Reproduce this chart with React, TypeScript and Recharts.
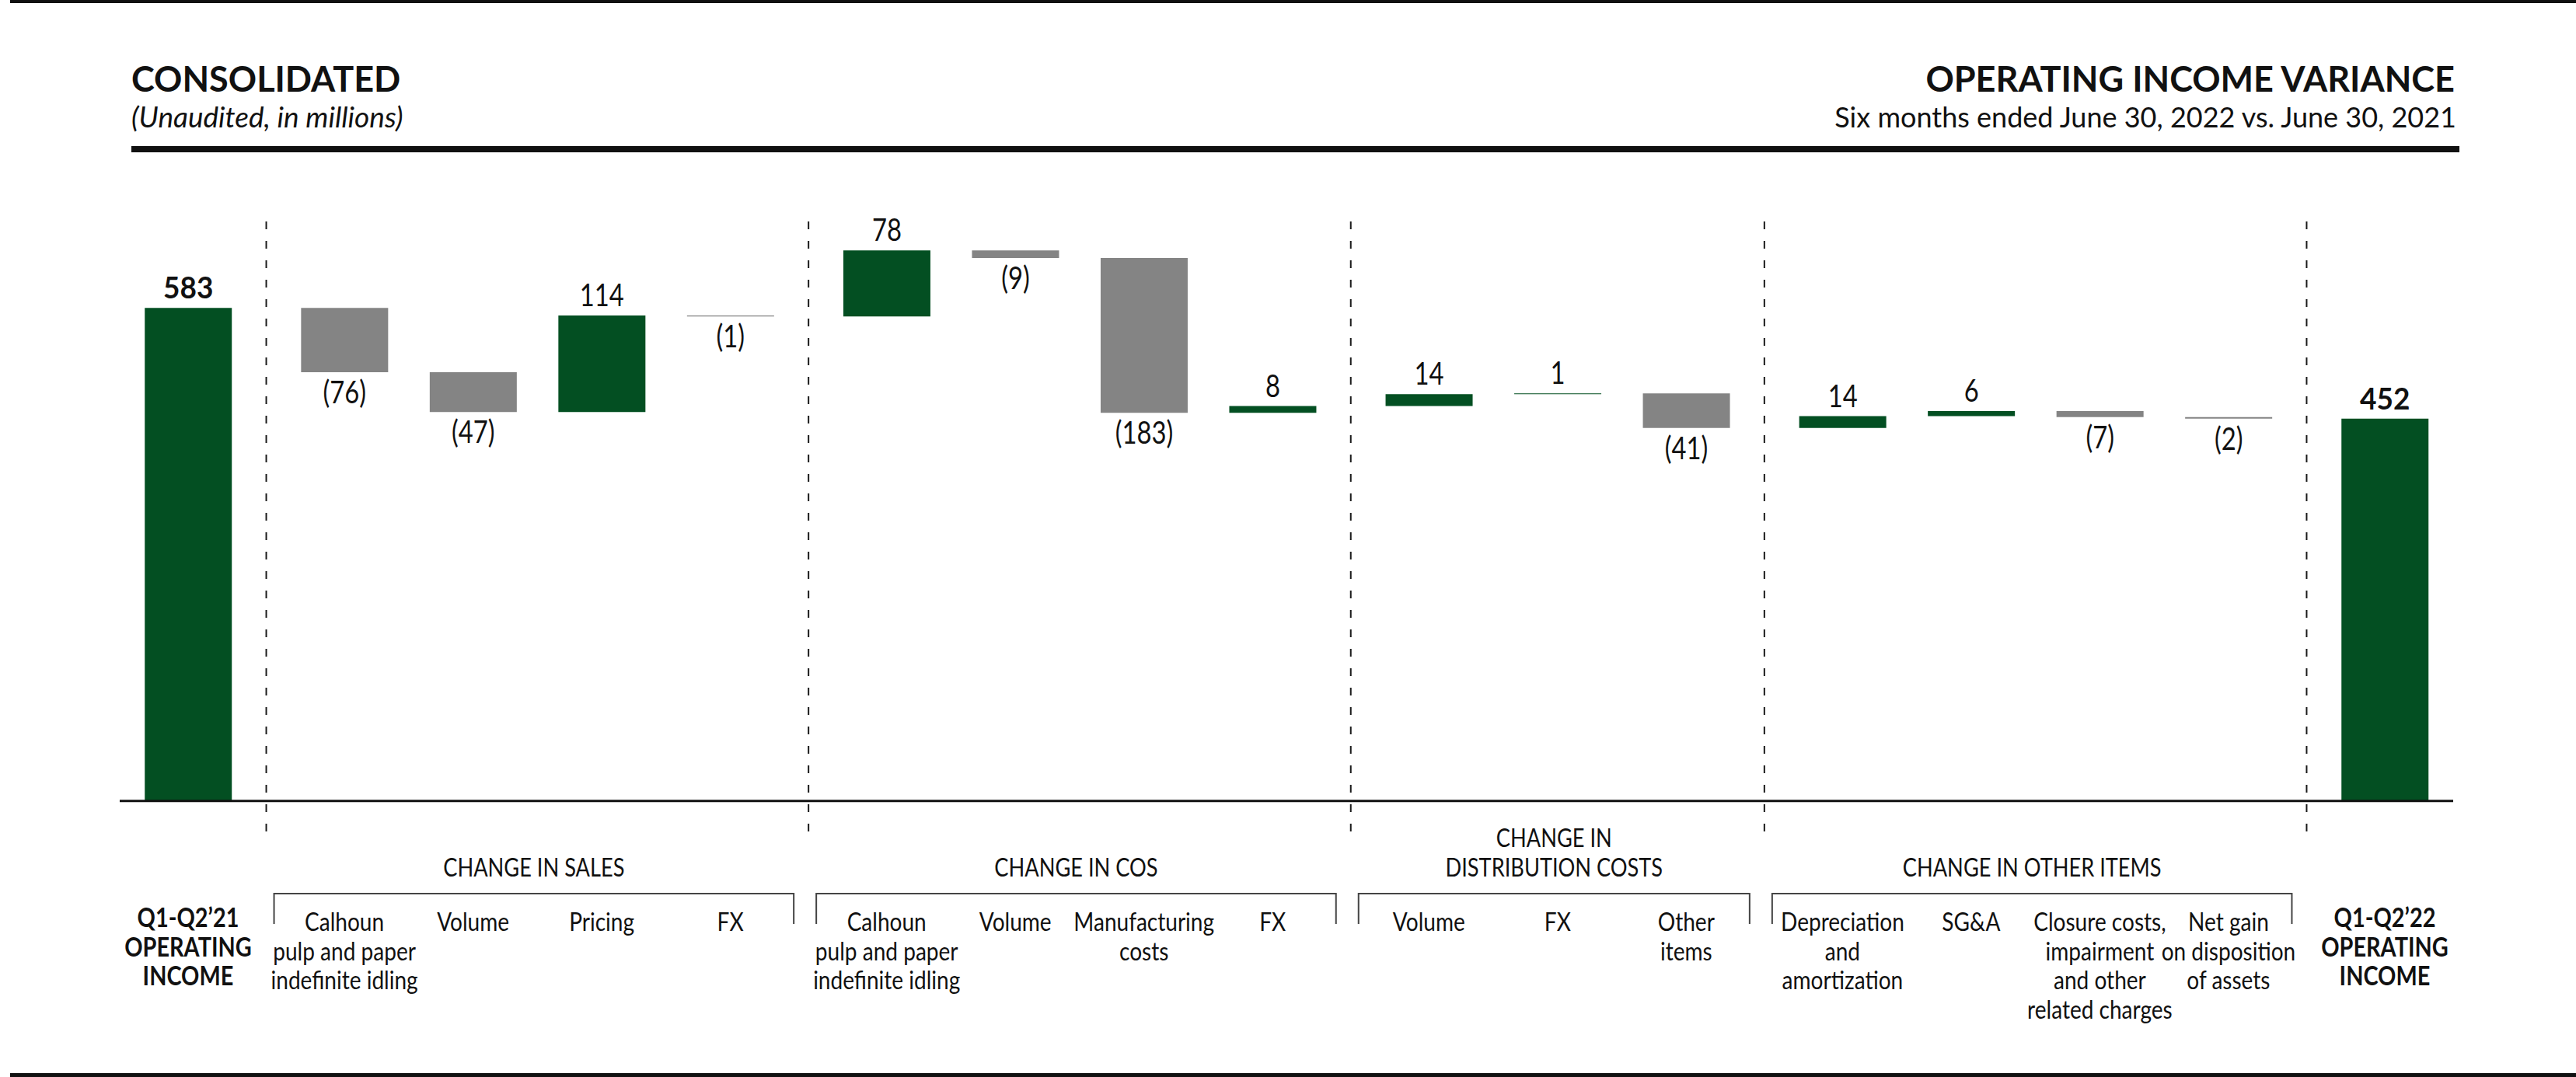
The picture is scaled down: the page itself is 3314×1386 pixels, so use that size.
import { Bar, BarChart, LabelList, ReferenceLine, XAxis, YAxis } from 'recharts'

const W = 3314
const H = 1386
const GREEN = '#034f22'
const GREY = '#848484'
const FONT = 'Lato, "Open Sans", sans-serif'

const categories = [
  'q1q2_21',
  'sales_calhoun',
  'sales_volume',
  'sales_pricing',
  'sales_fx',
  'cos_calhoun',
  'cos_volume',
  'cos_mfg',
  'cos_fx',
  'dist_volume',
  'dist_fx',
  'dist_other',
  'other_da',
  'other_sga',
  'other_closure',
  'other_gain',
  'q1q2_22',
]
const changes = [583, -76, -47, 114, -1, 78, -9, -183, 8, 14, 1, -41, 14, 6, -7, -2, 452]
const isTotal = [true, false, false, false, false, false, false, false, false, false, false, false, false, false, false, false, true]
const tickLabels = [
  ['Q1-Q2’21', 'OPERATING', 'INCOME'],
  ['Calhoun', 'pulp and paper', 'indefinite idling'],
  ['Volume'],
  ['Pricing'],
  ['FX'],
  ['Calhoun', 'pulp and paper', 'indefinite idling'],
  ['Volume'],
  ['Manufacturing', 'costs'],
  ['FX'],
  ['Volume'],
  ['FX'],
  ['Other', 'items'],
  ['Depreciation', 'and', 'amortization'],
  ['SG&A'],
  ['Closure costs,', 'impairment', 'and other', 'related charges'],
  ['Net gain', 'on disposition', 'of assets'],
  ['Q1-Q2’22', 'OPERATING', 'INCOME'],
]
const groupTitles = [['CHANGE IN SALES'], ['CHANGE IN COS'], ['CHANGE IN', 'DISTRIBUTION COSTS'], ['CHANGE IN OTHER ITEMS']]
// first category index of each section (a dashed separator sits before each)
const separators = [1, 5, 9, 12, 16]
const GROUP_GAP = 0.215

// slot on the x axis: category index plus a small extra gap per section
const slots = categories.map((_, i) => i + GROUP_GAP * separators.filter((s) => s <= i).length)
const sepSlots = separators.map((s) => (slots[s - 1] + slots[s]) / 2)

// waterfall rows: invisible base + one visible segment
let run = 0
const rows = categories.map((id, i) => {
  const v = changes[i]
  const slot = slots[i]
  if (isTotal[i]) {
    run = v
    return { id, slot, base: 0, total: v, up: null, down: null }
  }
  const prev = run
  run += v
  return v >= 0
    ? { id, slot, base: prev, total: null, up: v, down: null }
    : { id, slot, base: run, total: null, up: null, down: -v }
})

const M = { top: 270, right: 158, bottom: 116, left: 154 }
const PAD = 88
const X0 = M.left + PAD
const X1 = W - M.right - PAD
const maxSlot = slots[slots.length - 1]
const px = (s: number) => X0 + (s / maxSlot) * (X1 - X0)

function valueLabel(kind: 'total' | 'up' | 'down') {
  return (p: any) => {
    if (p.value == null) return null
    const cx = Number(p.x) + Number(p.width) / 2
    const by = kind === 'down' ? Number(p.y) + Number(p.height) + 40 : Number(p.y) - 12
    const text = kind === 'down' ? `(${p.value})` : String(p.value)
    return (
      <text
        transform={`translate(${cx} ${by}) scale(${kind === 'total' ? 0.95 : 0.82} 1)`}
        textAnchor="middle"
        fontFamily={FONT}
        fontSize={kind === 'total' ? 39 : 40}
        fontWeight={kind === 'total' ? 700 : 400}
        fill="#111"
      >
        {text}
      </text>
    )
  }
}

function CategoryTick(props: any) {
  const i = slots.indexOf(props.payload.value)
  if (i < 0) return null
  const bold = isTotal[i]
  const y0 = bold ? 1193 : 1198
  return (
    <g>
      {tickLabels[i].map((line, k) => (
        <text
          key={k}
          transform={`translate(${props.x} ${y0 + k * 37.5}) scale(0.85 1)`}
          textAnchor="middle"
          fontFamily={FONT}
          fontSize={bold ? 34 : 33}
          fontWeight={bold ? 700 : 400}
          fill="#111"
        >
          {line}
        </text>
      ))}
    </g>
  )
}

export default function App() {
  return (
    <div style={{ position: 'absolute', left: 0, top: 0, width: W, height: H, background: '#fff' }}>
      <BarChart width={W} height={H} data={rows} margin={M} barSize={112}>
        <XAxis
          dataKey="slot"
          type="number"
          domain={['dataMin', 'dataMax']}
          padding={{ left: PAD, right: PAD }}
          ticks={slots}
          interval={0}
          height={200}
          axisLine={false}
          tickLine={false}
          tick={(p: any) => <CategoryTick {...p} />}
        />
        <YAxis hide width={0} domain={[-36, 699]} allowDataOverflow />
        {sepSlots.map((s) => (
          <ReferenceLine key={s} x={s} stroke="#1a1a1a" strokeWidth={2} strokeDasharray="10 15" />
        ))}
        <Bar dataKey="base" stackId="w" fill="transparent" isAnimationActive={false} />
        <Bar dataKey="total" stackId="w" fill={GREEN} isAnimationActive={false}>
          <LabelList dataKey="total" content={valueLabel('total')} />
        </Bar>
        <Bar dataKey="up" stackId="w" fill={GREEN} isAnimationActive={false}>
          <LabelList dataKey="up" content={valueLabel('up')} />
        </Bar>
        <Bar dataKey="down" stackId="w" fill={GREY} isAnimationActive={false}>
          <LabelList dataKey="down" content={valueLabel('down')} />
        </Bar>
        <ReferenceLine y={0} stroke="#111" strokeWidth={3} />
      </BarChart>

      <svg
        width={W}
        height={H}
        style={{ position: 'absolute', left: 0, top: 0, pointerEvents: 'none' }}
        fontFamily={FONT}
      >
        <rect x={13} y={0} width={W - 13} height={4} fill="#111" />
        <rect x={13} y={1381} width={W - 13} height={5} fill="#111" />
        <text x={169} y={118} fontSize={45} fontWeight={700} fill="#111">CONSOLIDATED</text>
        <text x={169} y={164} fontSize={37} fontStyle="italic" fill="#111">(Unaudited, in millions)</text>
        <text x={3158} y={118} fontSize={45} fontWeight={700} textAnchor="end" fill="#111">
          OPERATING INCOME VARIANCE
        </text>
        <text x={3160} y={164} fontSize={36} textAnchor="end" fill="#111">
          Six months ended June 30, 2022 vs. June 30, 2021
        </text>
        <rect x={169} y={188} width={2995} height={8} fill="#111" />

        {groupTitles.map((lines, g) => {
          const x1 = px(sepSlots[g]) + 10
          const x2 = px(sepSlots[g + 1]) - 19
          const mid = (x1 + x2) / 2
          return (
            <g key={g}>
              <path d={`M${x1},1189 V1150 H${x2} V1189`} fill="none" stroke="#444" strokeWidth={2} />
              {lines.map((t, k) => (
                <text
                  key={k}
                  transform={`translate(${mid} ${1128 - (lines.length - 1 - k) * 38}) scale(0.85 1)`}
                  textAnchor="middle"
                  fontSize={32}
                  fill="#111"
                >
                  {t}
                </text>
              ))}
            </g>
          )
        })}
      </svg>
    </div>
  )
}
